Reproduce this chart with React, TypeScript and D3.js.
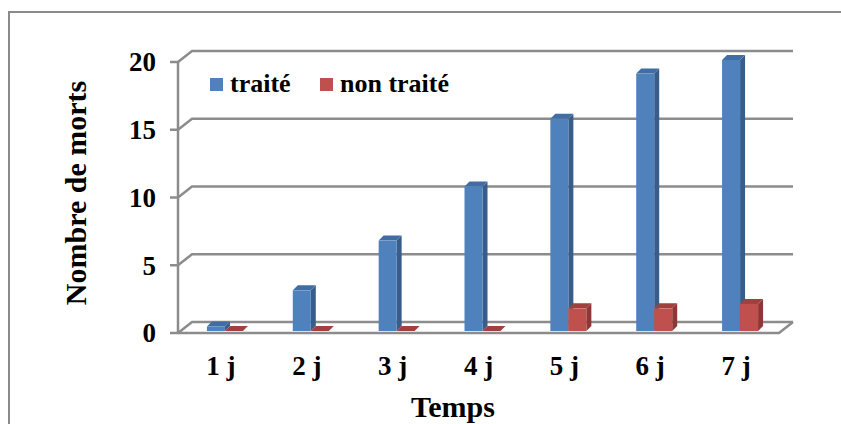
import React from 'react';
import * as d3 from 'd3';

// Mortality over time: treated vs untreated
const categories = ['1 j', '2 j', '3 j', '4 j', '5 j', '6 j', '7 j'];
const traite = [0.33, 3, 6.67, 10.67, 15.67, 19, 20];
const nonTraite = [0, 0, 0, 0, 1.67, 1.67, 2];
const yTicks = [0, 5, 10, 15, 20];
const seriesNames = ['traité', 'non traité'];

const W = 841;
const H = 424;
const FONT = "'Liberation Serif', 'Times New Roman', serif";

// 3D box geometry
const DEPTH = { dx: 14, dy: -11 }; // wall depth
const BAR_PLANE = { dx: 4, dy: -2 }; // where bars stand inside the floor
const BAR_DEPTH = { dx: 5, dy: -5 }; // depth of each column
const BAR_W = 18;

const COLORS = [
  { front: '#4F81BD', side: '#385D8A', top: '#426DA2' },
  { front: '#C0504D', side: '#8C3836', top: '#A2403D' },
];
const GRID = '#8C8C8C';

export default function App() {
  const x = d3.scaleBand<string>().domain(categories).range([178, 779]).padding(0);
  const y = d3.scaleLinear().domain([0, 20]).range([333, 62]);
  const bw = x.bandwidth();
  const groupOffset = (bw - 2 * BAR_W) / 2;

  const bar = (value: number, cat: string, s: number) => {
    const x0 = (x(cat) as number) + BAR_PLANE.dx + groupOffset + s * BAR_W;
    const x1 = x0 + BAR_W;
    const yb = y(0) + BAR_PLANE.dy;
    const yt = y(value) + BAR_PLANE.dy;
    const { dx, dy } = BAR_DEPTH;
    const c = COLORS[s];
    const pts = (p: number[][]) => p.map((q) => q.join(',')).join(' ');
    return (
      <g key={cat + s}>
        <polygon points={pts([[x1, yb], [x1 + dx, yb + dy], [x1 + dx, yt + dy], [x1, yt]])} fill={c.side} />
        <polygon points={pts([[x0, yt], [x1, yt], [x1 + dx, yt + dy], [x0 + dx, yt + dy]])} fill={c.top} />
        {value > 0 && <rect x={x0} y={yt} width={BAR_W} height={yb - yt} fill={c.front} />}
      </g>
    );
  };

  const xl = 178;
  const xr = 779;
  const txt = { fontFamily: FONT, fontWeight: 'bold' as const };
  return (
    <svg width={W} height={H} style={{ position: 'absolute', left: 0, top: 0 }}>
      <rect x={0} y={0} width={W} height={H} fill="#fff" />
      <rect x={9} y={12} width={W + 20} height={H + 20} fill="none" stroke="#8A8A8A" strokeWidth={2} />

      {/* back wall gridlines and side-wall slants */}
      {yTicks.map((t) => (
        <polyline
          key={t}
          points={`${xl - 8},${y(t)} ${xl},${y(t)} ${xl + DEPTH.dx},${y(t) + DEPTH.dy} ${xr + DEPTH.dx},${y(t) + DEPTH.dy}`}
          stroke={GRID}
          strokeWidth={2.5}
          fill="none"
        />
      ))}
      {/* floor front edge */}
      <polyline
        points={`${xl},${y(0)} ${xr},${y(0)} ${xr + DEPTH.dx},${y(0) + DEPTH.dy}`}
        stroke={GRID}
        strokeWidth={2.5}
        fill="none"
      />
      {/* vertical axis */}
      <line x1={xl} x2={xl} y1={y(20)} y2={y(0)} stroke={GRID} strokeWidth={2.5} />

      {/* columns */}
      {categories.map((c, i) => (
        <g key={c}>
          {bar(traite[i], c, 0)}
          {bar(nonTraite[i], c, 1)}
        </g>
      ))}

      {/* y tick labels */}
      {yTicks.map((t) => (
        <text key={t} x={156} y={y(t)} dy="0.35em" textAnchor="end" fontSize={27} {...txt}>
          {t}
        </text>
      ))}

      {/* x tick labels */}
      {categories.map((c) => (
        <text key={c} x={(x(c) as number) + bw / 2} y={375} textAnchor="middle" fontSize={27} {...txt}>
          {c}
        </text>
      ))}

      {/* axis titles */}
      <text x={453} y={417} textAnchor="middle" fontSize={30} {...txt}>
        Temps
      </text>
      <text transform="translate(86,193) rotate(-90)" textAnchor="middle" fontSize={30} {...txt}>
        Nombre de morts
      </text>

      {/* legend */}
      <rect x={210} y={78} width={13} height={13} fill={COLORS[0].front} />
      <text x={230} y={92} fontSize={26} {...txt}>{seriesNames[0]}</text>
      <rect x={320} y={78} width={13} height={13} fill={COLORS[1].front} />
      <text x={340} y={92} fontSize={26} {...txt}>{seriesNames[1]}</text>
    </svg>
  );
}
